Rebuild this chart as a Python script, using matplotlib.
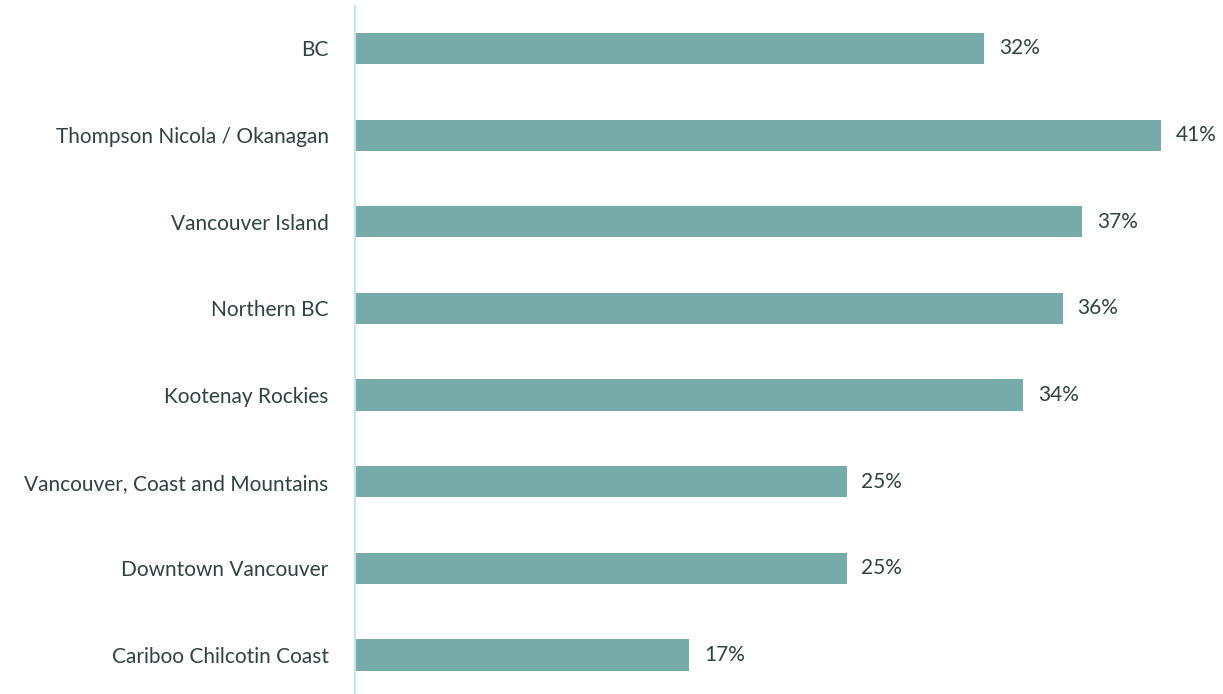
import matplotlib.pyplot as plt

regions = [
    "BC",
    "Thompson Nicola / Okanagan",
    "Vancouver Island",
    "Northern BC",
    "Kootenay Rockies",
    "Vancouver, Coast and Mountains",
    "Downtown Vancouver",
    "Cariboo Chilcotin Coast",
]
shares = [32, 41, 37, 36, 34, 25, 25, 17]

BAR = "#76aba9"
TEXT = "#2f4340"
AXIS = "#bfe6f5"

plt.rcParams["font.family"] = ["Lato", "DejaVu Sans"]

fig = plt.figure(figsize=(12.23, 6.94), dpi=100)
ax = fig.add_axes([355 / 1223, 0, 1 - 355 / 1223, 1 - 6 / 694])

y = list(range(len(regions)))
ax.barh(y, shares, height=0.36, color=BAR)
for yi, v in zip(y, shares):
    ax.text(v + 0.75, yi, f"{v}%", va="center", ha="left",
            fontsize=15, color=TEXT)

ax.set_xlim(0, 44.15)
ax.set_ylim(7.45, -0.49)
ax.set_yticks(y)
ax.set_yticklabels(regions, fontsize=15, color=TEXT)
ax.tick_params(axis="y", length=0, pad=19)
ax.set_xticks([])
for side in ["top", "right", "bottom"]:
    ax.spines[side].set_visible(False)
ax.spines["left"].set_color(AXIS)
ax.spines["left"].set_linewidth(1.5)

fig.savefig("out.png", dpi=100)
